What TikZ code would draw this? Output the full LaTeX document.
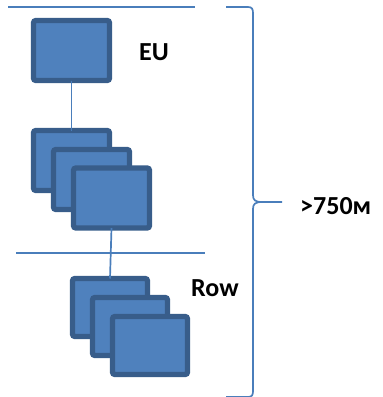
\documentclass[tikz,border=0pt]{standalone}
\usepackage{fontspec}
\setmainfont{Carlito}
\definecolor{boxfill}{HTML}{4F81BD}
\definecolor{boxedge}{HTML}{385D8A}
\definecolor{rule}{HTML}{4A7EBB}
\tikzset{
  unit/.style={draw=boxedge, fill=boxfill, line width=5.4pt, rounded corners=2.5pt,
    minimum width=76pt, minimum height=60pt, inner sep=0pt, outer sep=0pt},
  unitsm/.style={unit, minimum width=75pt, minimum height=58pt},
  link/.style={draw=rule, line width=1.7pt},
  lbl/.style={font=\bfseries\fontsize{26}{26}\selectfont, inner sep=0pt, anchor=west}
}
\begin{document}
\begin{tikzpicture}[x=1pt, y=-1pt]
\useasboundingbox (0,0) rectangle (383,397);
\clip (0,0) rectangle (383,397);
% separators
\coordinate (t1) at (8,7);   \coordinate (t2) at (195,7);
\coordinate (m1) at (16,253); \coordinate (m2) at (205,253);
\draw[link] (t1) -- (t2);
\draw[link] (m1) -- (m2);
% top unit
\node[unit] (eu) at (71.5,50.5) {};
% first stack
\node[unit] (sa) at (71.5,160.5) {};
\node[unit] (sb) at (91.5,179.5) {};
\node[unit] (sc) at (111.5,198) {};
% second stack
\node[unitsm] (ra) at (110,307.5) {};
\node[unitsm] (rb) at (130,326.5) {};
\node[unitsm] (rc) at (150,345.5) {};
% links between levels
\draw[link] (eu.south) -- (sa.north);
\draw[link] (sc.south) -- (ra.north);
% labels
\node[lbl] (leu) at (139,52) {EU};
\node[lbl] (lrow) at (191,288.5) {Row};
\node[lbl] (lsize) at (300,206) {>750м};
% curly brace
\draw[link] (226,7) -- (248,7) .. controls (252,7) and (253,9) .. (253,13)
  -- (253,195) .. controls (253,200) and (255,202) .. (262,202) -- (282,202);
\draw[link] (262,202) .. controls (255,202) and (253,204) .. (253,209)
  -- (253,391) .. controls (253,395) and (252,397) .. (248,397) -- (226,397);
\end{tikzpicture}
\end{document}
